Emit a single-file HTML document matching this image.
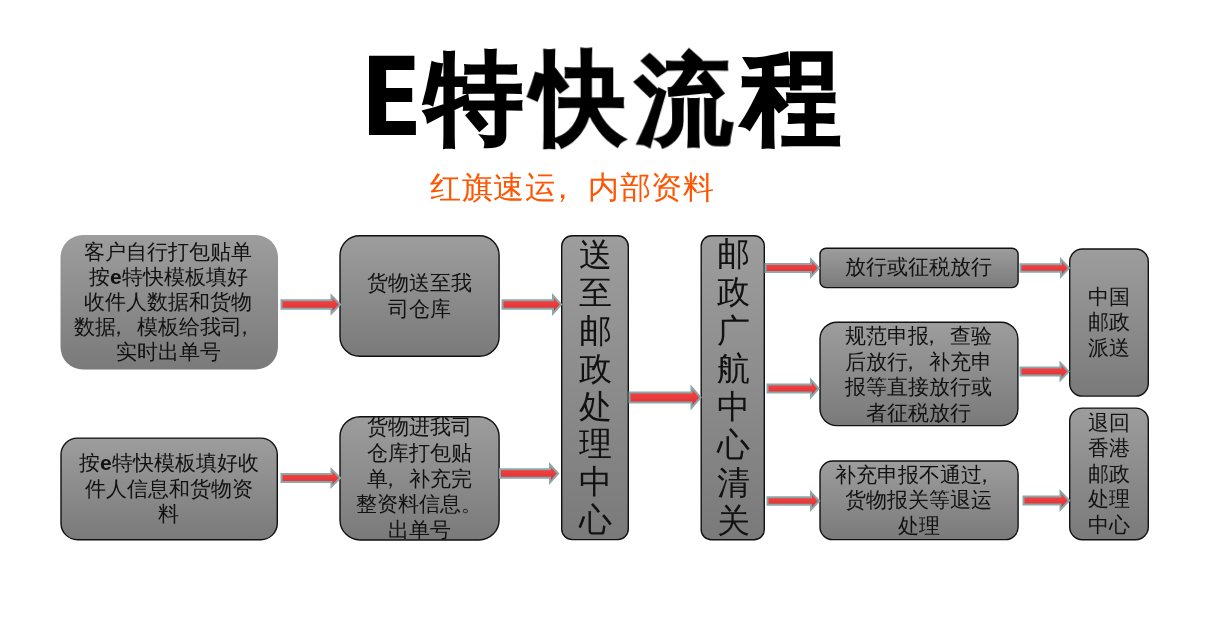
<!DOCTYPE html>
<html><head><meta charset="utf-8">
<style>
html,body{margin:0;padding:0;background:#fff;}
body{width:1214px;height:621px;position:relative;overflow:hidden;font-family:"Liberation Sans",sans-serif;}
.b,.t,.g{will-change:transform;}
.t{position:absolute;white-space:nowrap;}
.g{position:absolute;font-size:98px;line-height:98px;font-weight:bold;color:#000;-webkit-text-stroke:2px #000;}
.b{position:absolute;box-sizing:border-box;display:flex;align-items:center;justify-content:center;text-align:center;color:#111;font-size:21px;}
.b span{display:block;white-space:nowrap;}
i.c{font-style:normal;position:relative;left:-8px;}
svg{position:absolute;left:0;top:0;}
</style></head><body>
<svg width="1214" height="621" viewBox="0 0 1214 621">
<defs>
<linearGradient id="gg" x1="0" y1="0" x2="0" y2="1"><stop offset="0" stop-color="#9d9d9d"/><stop offset="1" stop-color="#7a7a7a"/></linearGradient>
<linearGradient id="rg" x1="0" y1="0" x2="0" y2="1"><stop offset="0" stop-color="#f7423f"/><stop offset="0.45" stop-color="#ee3c3c"/><stop offset="1" stop-color="#c9313a"/></linearGradient>
</defs>
<path d="M369,55.8H414.4V70H386.1V88H412.2V102H386.1V121.1H415.9V134.9H369Z" fill="#000"/>
<rect x="60.50" y="235.00" width="217.50" height="134.50" rx="22.42" fill="url(#gg)"/>
<rect x="340.00" y="235.70" width="159.10" height="120.60" rx="19.63" fill="url(#gg)" stroke="#111" stroke-width="1.4"/>
<rect x="561.70" y="235.70" width="66.60" height="303.90" rx="10.63" fill="url(#gg)" stroke="#111" stroke-width="1.4"/>
<rect x="701.20" y="235.70" width="63.10" height="304.10" rx="10.05" fill="url(#gg)" stroke="#111" stroke-width="1.4"/>
<rect x="820.00" y="248.30" width="198.10" height="39.30" rx="6.08" fill="url(#gg)" stroke="#111" stroke-width="1.4"/>
<rect x="820.00" y="322.20" width="197.90" height="103.40" rx="16.77" fill="url(#gg)" stroke="#111" stroke-width="1.4"/>
<rect x="820.00" y="461.00" width="198.10" height="78.60" rx="12.63" fill="url(#gg)" stroke="#111" stroke-width="1.4"/>
<rect x="1069.70" y="249.00" width="78.60" height="147.10" rx="12.63" fill="url(#gg)" stroke="#111" stroke-width="1.4"/>
<rect x="1069.70" y="408.10" width="78.60" height="131.60" rx="12.63" fill="url(#gg)" stroke="#111" stroke-width="1.4"/>
<rect x="61.00" y="438.10" width="216.30" height="101.60" rx="16.47" fill="url(#gg)" stroke="#111" stroke-width="1.4"/>
<rect x="340.00" y="416.70" width="159.10" height="123.30" rx="20.08" fill="url(#gg)" stroke="#111" stroke-width="1.4"/>
<g fill="url(#rg)" stroke="#8aa7aa" stroke-width="2" stroke-linejoin="miter" stroke-miterlimit="10">
<polygon points="281.50,300.25 331.50,300.25 331.50,295.65 340.10,304.50 331.50,313.35 331.50,308.75 281.50,308.75"/>
<polygon points="502.50,300.25 553.00,300.25 553.00,295.65 561.10,304.50 553.00,313.35 553.00,308.75 502.50,308.75"/>
<polygon points="281.50,474.00 331.50,474.00 331.50,469.40 340.10,478.00 331.50,486.60 331.50,482.00 281.50,482.00"/>
<polygon points="500.00,469.25 550.00,469.25 550.00,464.65 558.10,473.50 550.00,482.35 550.00,477.75 500.00,477.75"/>
<polygon points="629.50,392.50 691.50,392.50 691.50,387.15 700.60,397.50 691.50,407.85 691.50,402.50 629.50,402.50"/>
<polygon points="765.50,264.00 811.00,264.00 811.00,259.40 819.10,268.00 811.00,276.60 811.00,272.00 765.50,272.00"/>
<polygon points="767.50,384.50 811.00,384.50 811.00,379.90 818.60,388.50 811.00,397.10 811.00,392.50 767.50,392.50"/>
<polygon points="767.50,497.25 811.00,497.25 811.00,492.40 819.10,501.00 811.00,509.60 811.00,504.75 767.50,504.75"/>
<polygon points="1020.50,264.25 1061.00,264.25 1061.00,259.40 1069.10,268.00 1061.00,276.60 1061.00,271.75 1020.50,271.75"/>
<polygon points="1020.50,367.50 1060.50,367.50 1060.50,362.90 1068.60,371.50 1060.50,380.10 1060.50,375.50 1020.50,375.50"/>
<polygon points="1023.50,496.50 1060.50,496.50 1060.50,491.40 1069.10,500.50 1060.50,509.60 1060.50,504.50 1023.50,504.50"/>
</g>
</svg>
<div class="g" style="left:424.9px;top:48.8px;transform-origin:47.5px 49.5px;transform:scale(1.003,1.023)">特</div>
<div class="g" style="left:529.5px;top:49.3px;transform-origin:47px 49.5px;transform:scale(0.953,1.033)">快</div>
<div class="g" style="left:634.6px;top:50.5px;transform-origin:48.5px 47.5px;transform:scale(0.993,0.99)">流</div>
<div class="g" style="left:742px;top:47.8px;transform-origin:46.5px 52px;transform:scale(1.009,1.093)">程</div>
<div class="t" style="left:430px;top:169.5px;font-size:31.2px;letter-spacing:0.6px;line-height:36px;color:#ff5400;">红旗速运<i class="c" style="left:-9px">，</i>内部资料</div>
<div class="b" style="left:60.5px;top:235px;width:217.5px;height:134.5px;font-size:21px;line-height:24.9px;padding:0 3px 0 0;"><span>客户自行打包贴单<br>按<b>e</b>特快模板填好<br>收件人数据和货物<br>数据<i class="c">，</i>模板给我司<i class="c">，</i><br>实时出单号</span></div>
<div class="b" style="left:339.3px;top:235px;width:160.5px;height:122px;font-size:21px;line-height:25.6px;"><span>货物送至我<br>司仓库</span></div>
<div class="b" style="left:561px;top:235px;width:68px;height:305.3px;font-size:33px;line-height:37.8px;"><span>送<br>至<br>邮<br>政<br>处<br>理<br>中<br>心</span></div>
<div class="b" style="left:700.5px;top:235px;width:64.5px;height:305.5px;font-size:33px;line-height:38.1px;"><span>邮<br>政<br>广<br>航<br>中<br>心<br>清<br>关</span></div>
<div class="b" style="left:819.3px;top:247.6px;width:199.5px;height:40.7px;font-size:21px;line-height:25.6px;padding:0 1px 3px 0;"><span>放行或征税放行</span></div>
<div class="b" style="left:819.3px;top:321.5px;width:199.3px;height:104.8px;font-size:21px;line-height:25.6px;"><span>规范申报<i class="c">，</i>查验<br>后放行<i class="c">，</i>补充申<br>报等直接放行或<br>者征税放行</span></div>
<div class="b" style="left:819.3px;top:460.3px;width:199.5px;height:80px;font-size:21px;line-height:25.6px;"><span>补充申报不通过<i class="c">，</i><br>货物报关等退运<br>处理</span></div>
<div class="b" style="left:1069px;top:248.3px;width:80px;height:148.5px;font-size:21px;line-height:25.6px;"><span>中国<br>邮政<br>派送</span></div>
<div class="b" style="left:1069px;top:407.4px;width:80px;height:133px;font-size:21px;line-height:25.6px;"><span>退回<br>香港<br>邮政<br>处理<br>中心</span></div>
<div class="b" style="left:60.3px;top:437.4px;width:217.7px;height:103px;font-size:21px;line-height:25.6px;"><span>按<b>e</b>特快模板填好收<br>件人信息和货物资<br>料</span></div>
<div class="b" style="left:339.3px;top:416px;width:160.5px;height:124.7px;font-size:21px;line-height:25.6px;"><span>货物进我司<br>仓库打包贴<br>单<i class="c">，</i>补充完<br>整资料信息。<br>出单号</span></div>
</body></html>
